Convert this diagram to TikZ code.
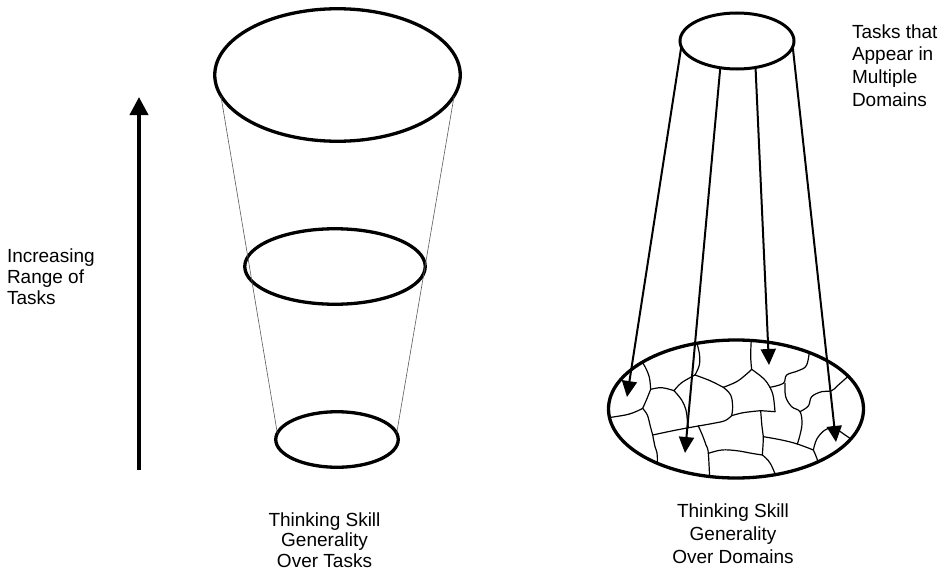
\documentclass[tikz,border=0pt]{standalone}
\usepackage{fontspec}
\setmainfont{Liberation Sans}
\usetikzlibrary{arrows.meta,shapes.geometric}
\begin{document}
\begin{tikzpicture}[x=1pt,y=-1pt,
  oval/.style={draw,ellipse,line width=3.3pt,inner sep=0pt,outer sep=0pt},
  guide/.style={line width=0.6pt,black!65},
  bigarrow/.style={line width=4pt,-{Triangle[width=18pt,length=18pt]}},
  taskarrow/.style={line width=2pt,-{Triangle[width=15pt,length=16pt]}},
  cellborder/.style={line width=1.2pt,line join=round,line cap=round},
  lbl/.style={inner sep=0pt,outer sep=0pt}]
\useasboundingbox (0,0) rectangle (951,570);

% ---------- left: generality over tasks ----------
\node[oval,minimum width=245.5pt,minimum height=132.5pt] (topL) at (337.5,75) {};
\node[oval,minimum width=180.5pt,minimum height=75.5pt] (midL) at (335,266.5) {};
\node[oval,minimum width=122.5pt,minimum height=55.5pt] (botL) at (337,439.5) {};
\draw[guide] (topL.190) -- (botL.174);
\draw[guide] (topL.350) -- (botL.6);

\coordinate (arrB) at (139,470);
\coordinate (arrT) at (139,97);
\draw[bigarrow] (arrB) -- (arrT);

\node[lbl,font=\fontsize{19}{21}\selectfont,align=left,anchor=north west] (incr) at (7,248.3) {Increasing\\Range of\\Tasks};
\node[lbl,font=\fontsize{19}{20.7}\selectfont,align=center,anchor=north] (genT) at (324.5,512.3) {Thinking Skill\\Generality\\Over Tasks};

% ---------- right: generality over domains ----------
\begin{scope}
\clip (736,409) ellipse [x radius=127.5, y radius=69];
\begin{scope}[shift={(600,300)},x=0.33333pt,y=-0.33333pt]
\draw[cellborder] plot[smooth,tension=0.6] coordinates {(120,178) (135,200) (148,232) (152,268)};
\draw[cellborder] plot[smooth,tension=0.6] coordinates {(152,268) (185,263) (222,272)};
\draw[cellborder] plot[smooth,tension=0.6] coordinates {(152,268) (140,298) (128,325)};
\draw[cellborder] plot[smooth,tension=0.6] coordinates {(128,325) (85,343) (10,355)};
\draw[cellborder] plot[smooth,tension=0.6] coordinates {(128,325) (142,345) (150,375) (158,405)};
\draw[cellborder] plot[smooth,tension=0.6] coordinates {(158,405) (165,440) (172,470) (170,560)};
\draw[cellborder] plot[smooth,tension=0.6] coordinates {(158,405) (200,396) (245,387) (295,378)};
\draw[cellborder] plot[smooth,tension=0.6] coordinates {(222,272) (245,300) (258,330) (262,360) (265,383)};
\draw[cellborder] plot[smooth,tension=0.6] coordinates {(222,272) (245,248) (285,225)};
\draw[cellborder] plot[smooth,tension=0.6] coordinates {(285,225) (298,195) (298,160) (288,120)};
\draw[cellborder] plot[smooth,tension=0.6] coordinates {(285,225) (330,242) (370,262)};
\draw[cellborder] plot[smooth,tension=0.6] coordinates {(370,262) (392,285) (398,320) (395,347)};
\draw[cellborder] plot[smooth,tension=0.6] coordinates {(370,262) (410,245) (440,222) (455,208)};
\draw[cellborder] plot[smooth,tension=0.6] coordinates {(455,208) (452,165) (455,100)};
\draw[cellborder] plot[smooth,tension=0.6] coordinates {(455,208) (490,235) (510,262) (520,290) (525,335)};
\draw[cellborder] plot[smooth,tension=0.6] coordinates {(510,262) (550,250) (560,225) (595,212) (620,195) (630,140)};
\draw[cellborder] plot[smooth,tension=0.6] coordinates {(555,250) (557,290) (575,320) (600,335) (606,370) (600,405) (592,432)};
\draw[cellborder] plot[smooth,tension=0.6] coordinates {(600,335) (625,318) (635,290) (665,275) (695,272) (715,255) (760,215)};
\draw[cellborder] plot[smooth,tension=0.6] coordinates {(395,347) (430,338) (482,332)};
\draw[cellborder] plot[smooth,tension=0.6] coordinates {(482,332) (525,335)};
\draw[cellborder] plot[smooth,tension=0.6] coordinates {(482,332) (486,380) (490,410) (487,465)};
\draw[cellborder] plot[smooth,tension=0.6] coordinates {(490,410) (545,420) (592,432) (640,450)};
\draw[cellborder] plot[smooth,tension=0.6] coordinates {(640,450) (650,418) (672,392) (700,380)};
\draw[cellborder] plot[smooth,tension=0.6] coordinates {(700,380) (750,415) (790,440)};
\draw[cellborder] plot[smooth,tension=0.6] coordinates {(640,450) (655,490) (665,560)};
\draw[cellborder] plot[smooth,tension=0.6] coordinates {(295,378) (340,370) (375,362) (395,347)};
\draw[cellborder] plot[smooth,tension=0.6] coordinates {(295,378) (307,405) (318,435) (325,460) (330,560)};
\draw[cellborder] plot[smooth,tension=0.6] coordinates {(325,460) (365,450) (410,452) (455,460) (487,465)};
\draw[cellborder] plot[smooth,tension=0.6] coordinates {(487,465) (512,492) (540,560)};
\end{scope}
\end{scope}

\node[oval,minimum width=255pt,minimum height=138pt] (botR) at (736,409) {};
\node[oval,line width=3pt,minimum width=114pt,minimum height=56pt] (topR) at (737,41) {};

\coordinate (tip1) at (627,397);
\coordinate (tip2) at (685,453);
\coordinate (tip3) at (769,365);
\coordinate (tip4) at (836,442);
\draw[taskarrow] (topR.186) -- (tip1);
\draw[taskarrow] (topR.238) -- (tip2);
\draw[taskarrow] (topR.305) -- (tip3);
\draw[taskarrow] (topR.354) -- (tip4);

\node[lbl,font=\fontsize{19}{22.6}\selectfont,align=left,anchor=north west] (multi) at (852,24.6) {Tasks that\\Appear in\\Multiple\\Domains};
\node[lbl,font=\fontsize{19}{23}\selectfont,align=center,anchor=north] (genD) at (733,503.3) {Thinking Skill\\Generality\\Over Domains};
\end{tikzpicture}
\end{document}
